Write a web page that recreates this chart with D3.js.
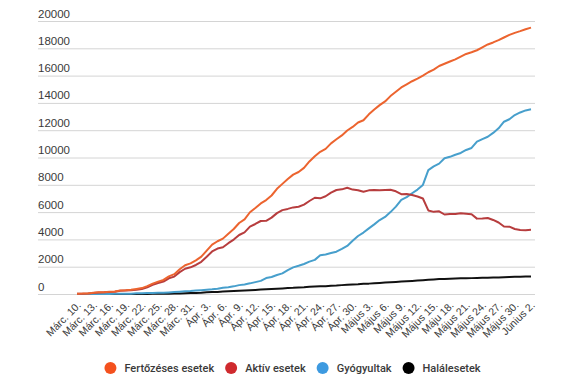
<!DOCTYPE html>
<html>
<head>
<meta charset="utf-8">
<script src="https://cdn.jsdelivr.net/npm/d3@7"></script>
<style>
  body { margin: 0; background: #fff; }
  svg { display: block; font-family: Roboto, "Noto Sans", sans-serif; }
</style>
</head>
<body>
<div id="vis"></div>
<script>
// napi adatok, Márc. 10. (0) ... Június 2. (84)
const tickLabels = ["Márc. 10.", "Márc. 13.", "Márc. 16.", "Márc. 19.", "Márc. 22.", "Márc. 25.", "Márc. 28.", "Márc. 31.",
  "Ápr. 3.", "Ápr. 6.", "Ápr. 9.", "Ápr. 12.", "Ápr. 15.", "Ápr. 18.", "Ápr. 21.", "Ápr. 24.", "Ápr. 27.", "Ápr. 30.",
  "Május 3.", "Május 6.", "Május 9.", "Május 12.", "Május 15.", "Máju 18.", "Május 21.", "Május 24.", "Május 27.", "Május 30.",
  "Június 2."];
const yTicks = [0, 2000, 4000, 6000, 8000, 10000, 12000, 14000, 16000, 18000, 20000];

const fertozes = [25, 29, 45, 89, 123, 131, 158, 184, 260, 277, 308, 367, 433, 576, 762, 906, 1029, 1292, 1452, 1815,
  2109, 2245, 2460, 2738, 3183, 3613, 3864, 4057, 4417, 4761, 5202, 5467, 5990, 6300, 6633, 6879, 7216, 7707, 8067, 8418,
  8746, 8936, 9242, 9710, 10096, 10417, 10635, 11036, 11339, 11616, 11978, 12240, 12567, 12732, 13163, 13512, 13837, 14107, 14499, 14811,
  15131, 15362, 15588, 15778, 16002, 16247, 16437, 16704, 16871, 17036, 17191, 17387, 17585, 17712, 17857, 18070, 18283, 18429, 18594, 18791,
  18982, 19133, 19257, 19398, 19517];
const aktiv = [22, 26, 39, 80, 114, 122, 149, 168, 241, 258, 283, 315, 367, 496, 672, 803, 912, 1151, 1276, 1603,
  1851, 1956, 2126, 2361, 2730, 3119, 3327, 3421, 3722, 3986, 4323, 4519, 4940, 5130, 5348, 5358, 5594, 5925, 6146, 6234,
  6345, 6388, 6544, 6813, 7051, 7010, 7160, 7428, 7620, 7666, 7783, 7647, 7604, 7488, 7593, 7622, 7605, 7617, 7635, 7523,
  7316, 7322, 7247, 7143, 6996, 6122, 6017, 6060, 5824, 5860, 5854, 5910, 5878, 5849, 5522, 5536, 5570, 5425, 5238, 4942,
  4935, 4764, 4688, 4669, 4699];
const gyogyult = [3, 3, 6, 9, 9, 9, 9, 16, 19, 19, 25, 52, 64, 73, 79, 86, 94, 115, 139, 169,
  206, 220, 252, 283, 320, 348, 386, 460, 498, 560, 650, 700, 780, 870, 960, 1170, 1250, 1390, 1510, 1750,
  1950, 2070, 2200, 2370, 2500, 2840, 2900, 3000, 3100, 3300, 3520, 3900, 4250, 4500, 4810, 5100, 5420, 5650, 6000, 6400,
  6900, 7100, 7380, 7650, 7990, 9080, 9350, 9550, 9940, 10050, 10200, 10330, 10550, 10700, 11160, 11350, 11520, 11800, 12140, 12620,
  12800, 13110, 13300, 13450, 13530];
const halal = [0, 0, 0, 0, 0, 0, 0, 0, 0, 0, 0, 0, 2, 7, 11, 17, 23, 26, 37, 43,
  52, 69, 82, 94, 133, 146, 151, 176, 197, 215, 229, 248, 270, 300, 325, 351, 372, 392, 411, 434,
  451, 478, 498, 527, 545, 567, 575, 608, 619, 650, 675, 693, 713, 744, 760, 790, 812, 840, 864, 888,
  915, 940, 961, 985, 1016, 1045, 1070, 1094, 1107, 1126, 1137, 1147, 1157, 1163, 1175, 1184, 1193, 1204, 1216, 1229,
  1247, 1259, 1269, 1279, 1288];

const series = [
  { name: "Fertőzéses esetek", values: fertozes, line: "#ec642f", dot: "#f4511e" },
  { name: "Aktív esetek", values: aktiv, line: "#b73d3e", dot: "#cf2a2e" },
  { name: "Gyógyultak", values: gyogyult, line: "#479fcc", dot: "#3d9ae0" },
  { name: "Halálesetek", values: halal, line: "#111111", dot: "#000000" },
];

const WIDTH = 575;
const HEIGHT = 387;
const margin = { top: 21, bottom: 93, left: 77, right: 44 };

const SVG = d3.select("#vis").append("svg").attr("width", WIDTH).attr("height", HEIGHT);

const escalaX = d3.scaleLinear().domain([0, fertozes.length - 1]).range([margin.left, WIDTH - margin.right]);
const escalaY = d3.scaleLinear().domain([0, 20000]).range([HEIGHT - margin.bottom, margin.top]);

// rácsvonalak + feliratok a vonal fölött
const gridLeft = 38;
const gridRight = 535;
const ejeY = d3.axisRight(escalaY).tickValues(yTicks).tickSize(gridRight - gridLeft).tickFormat((d) => d);
const gY = SVG.append("g").attr("transform", `translate(${gridLeft},0)`).call(ejeY);
gY.select(".domain").remove();
gY.selectAll("line").attr("stroke", "#d4d4d4");
gY.selectAll("text")
  .attr("x", 0)
  .attr("dy", -4)
  .attr("text-anchor", "start")
  .attr("fill", "#3a3a3a")
  .style("font-size", "11.5px")
  .style("font-weight", 500);

// x tengely, döntött feliratok
const ejeX = d3.axisBottom(escalaX)
  .tickValues(d3.range(0, fertozes.length, 3))
  .tickSize(0)
  .tickFormat((d, i) => tickLabels[i]);
const gX = SVG.append("g").attr("transform", `translate(0,${HEIGHT - margin.bottom})`).call(ejeX);
gX.select(".domain").remove();
gX.selectAll("text")
  .attr("x", 0)
  .attr("y", 0)
  .attr("dy", 0)
  .attr("text-anchor", "end")
  .attr("transform", "translate(4,12) rotate(-45)")
  .attr("fill", "#3a3a3a")
  .style("font-size", "10.5px")
  .style("font-weight", 500);

const linea = (vals) => d3.line().x((d, i) => escalaX(i)).y((d) => escalaY(d))(vals);

SVG.append("g")
  .selectAll("path")
  .data(series.slice().reverse())
  .join("path")
  .attr("d", (d) => linea(d.values))
  .attr("fill", "none")
  .attr("stroke", (d) => d.line)
  .attr("stroke-width", 2)
  .attr("stroke-linejoin", "round");

// jelmagyarázat, középre
const legend = SVG.append("g");
let xPos = 0;
series.forEach((s) => {
  const item = legend.append("g").attr("transform", `translate(${xPos},0)`);
  item.append("circle").attr("cx", 6).attr("cy", 0).attr("r", 6).attr("fill", s.dot);
  const t = item.append("text")
    .attr("x", 20)
    .attr("dy", "0.35em")
    .attr("fill", "#3a3a3a")
    .style("font-size", "11px")
    .style("font-weight", 500)
    .text(s.name);
  xPos += 20 + t.node().getComputedTextLength() + 11;
});
const legendWidth = xPos - 11;
legend.attr("transform", `translate(${(gridLeft + gridRight) / 2 - legendWidth / 2 + 6},368)`);
</script>
</body>
</html>
